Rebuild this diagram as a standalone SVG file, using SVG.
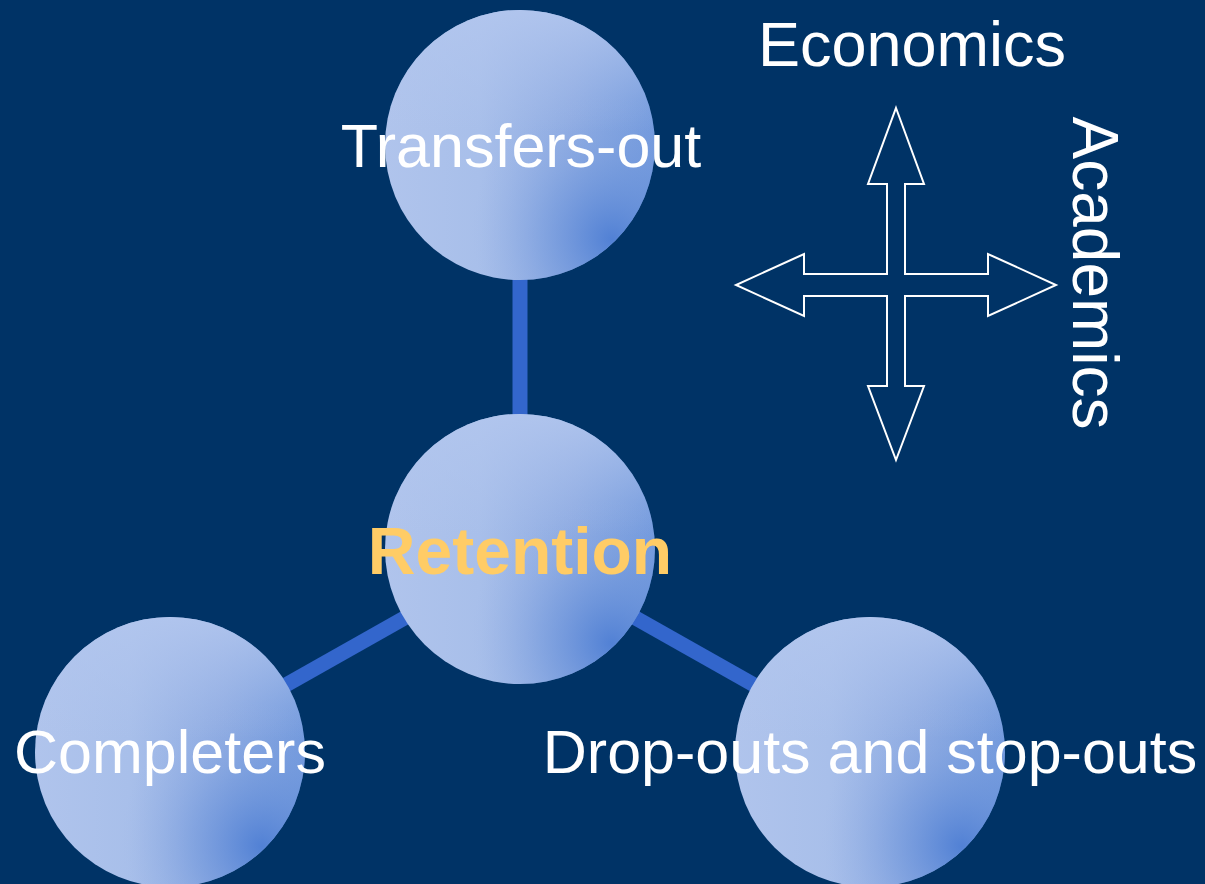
<svg xmlns="http://www.w3.org/2000/svg" width="1205" height="884" viewBox="0 0 1205 884">
  <defs>
    <linearGradient id="ballH" x1="0" y1="0" x2="1" y2="0">
      <stop offset="0" stop-color="#b0c4ec"/>
      <stop offset="0.35" stop-color="#a8bfea"/>
      <stop offset="0.7" stop-color="#8eabe2"/>
      <stop offset="1" stop-color="#6f97dc"/>
    </linearGradient>
    <radialGradient id="ballSpot" cx="0.82" cy="0.82" r="0.5" fx="0.84" fy="0.85">
      <stop offset="0" stop-color="#4f7fd4" stop-opacity="0.95"/>
      <stop offset="0.5" stop-color="#6d95db" stop-opacity="0.45"/>
      <stop offset="1" stop-color="#9ab4e6" stop-opacity="0"/>
    </radialGradient>
    <linearGradient id="ballTop" x1="0" y1="0" x2="0" y2="1">
      <stop offset="0" stop-color="#b2c6ee" stop-opacity="0.9"/>
      <stop offset="0.45" stop-color="#b2c6ee" stop-opacity="0"/>
    </linearGradient>
  </defs>
  <style>
    .bg { fill: #003366; }
    .conn { stroke: #3366cc; stroke-width: 15; fill: none; }
    .b1 { fill: url(#ballH); }
    .b2 { fill: url(#ballSpot); }
    .b3 { fill: url(#ballTop); }
    .lbl { font-family: "Liberation Sans", Arial, sans-serif; fill: #ffffff; font-size: 61px; text-anchor: middle; }
    .ret { font-family: "Liberation Sans", Arial, sans-serif; fill: #ffcc66; font-size: 66px; font-weight: bold; text-anchor: middle; }
    .cross { fill: none; stroke: #ffffff; stroke-width: 2; stroke-linejoin: miter; }
  </style>
  <rect class="bg" x="0" y="0" width="1205" height="884"/>

  <g id="connectors">
    <line class="conn" x1="520" y1="278" x2="520" y2="416"/>
    <line class="conn" x1="408" y1="616" x2="284" y2="686"/>
    <line class="conn" x1="632" y1="616" x2="756" y2="686"/>
  </g>

  <g id="node-transfers">
    <circle class="b1" cx="520" cy="145" r="135"/>
    <circle class="b2" cx="520" cy="145" r="135"/>
    <circle class="b3" cx="520" cy="145" r="135"/>
    <text class="lbl" x="521" y="167">Transfers-out</text>
  </g>

  <g id="node-retention">
    <circle class="b1" cx="520" cy="549" r="135"/>
    <circle class="b2" cx="520" cy="549" r="135"/>
    <circle class="b3" cx="520" cy="549" r="135"/>
    <text class="ret" x="520" y="574">Retention</text>
  </g>

  <g id="node-completers">
    <circle class="b1" cx="170" cy="752" r="135"/>
    <circle class="b2" cx="170" cy="752" r="135"/>
    <circle class="b3" cx="170" cy="752" r="135"/>
    <text class="lbl" x="170" y="773">Completers</text>
  </g>

  <g id="node-dropouts">
    <circle class="b1" cx="870" cy="752" r="135"/>
    <circle class="b2" cx="870" cy="752" r="135"/>
    <circle class="b3" cx="870" cy="752" r="135"/>
    <text class="lbl" x="870" y="773">Drop-outs and stop-outs</text>
  </g>

  <g id="cross-arrow">
    <path class="cross" d="M896,108 L924,184 L905,184 L905,274 L988,274 L988,254 L1056,285 L988,316 L988,296 L905,296 L905,386 L924,386 L896,460 L868,386 L887,386 L887,296 L804,296 L804,316 L736,285 L804,254 L804,274 L887,274 L887,184 L868,184 Z"/>
  </g>

  <g id="label-economics">
    <text class="lbl" x="912" y="66" style="font-size:63px">Economics</text>
  </g>
  <g id="label-academics">
    <text class="lbl" transform="translate(1073,273) rotate(90)" x="0" y="0" style="font-size:64px">Academics</text>
  </g>
</svg>
